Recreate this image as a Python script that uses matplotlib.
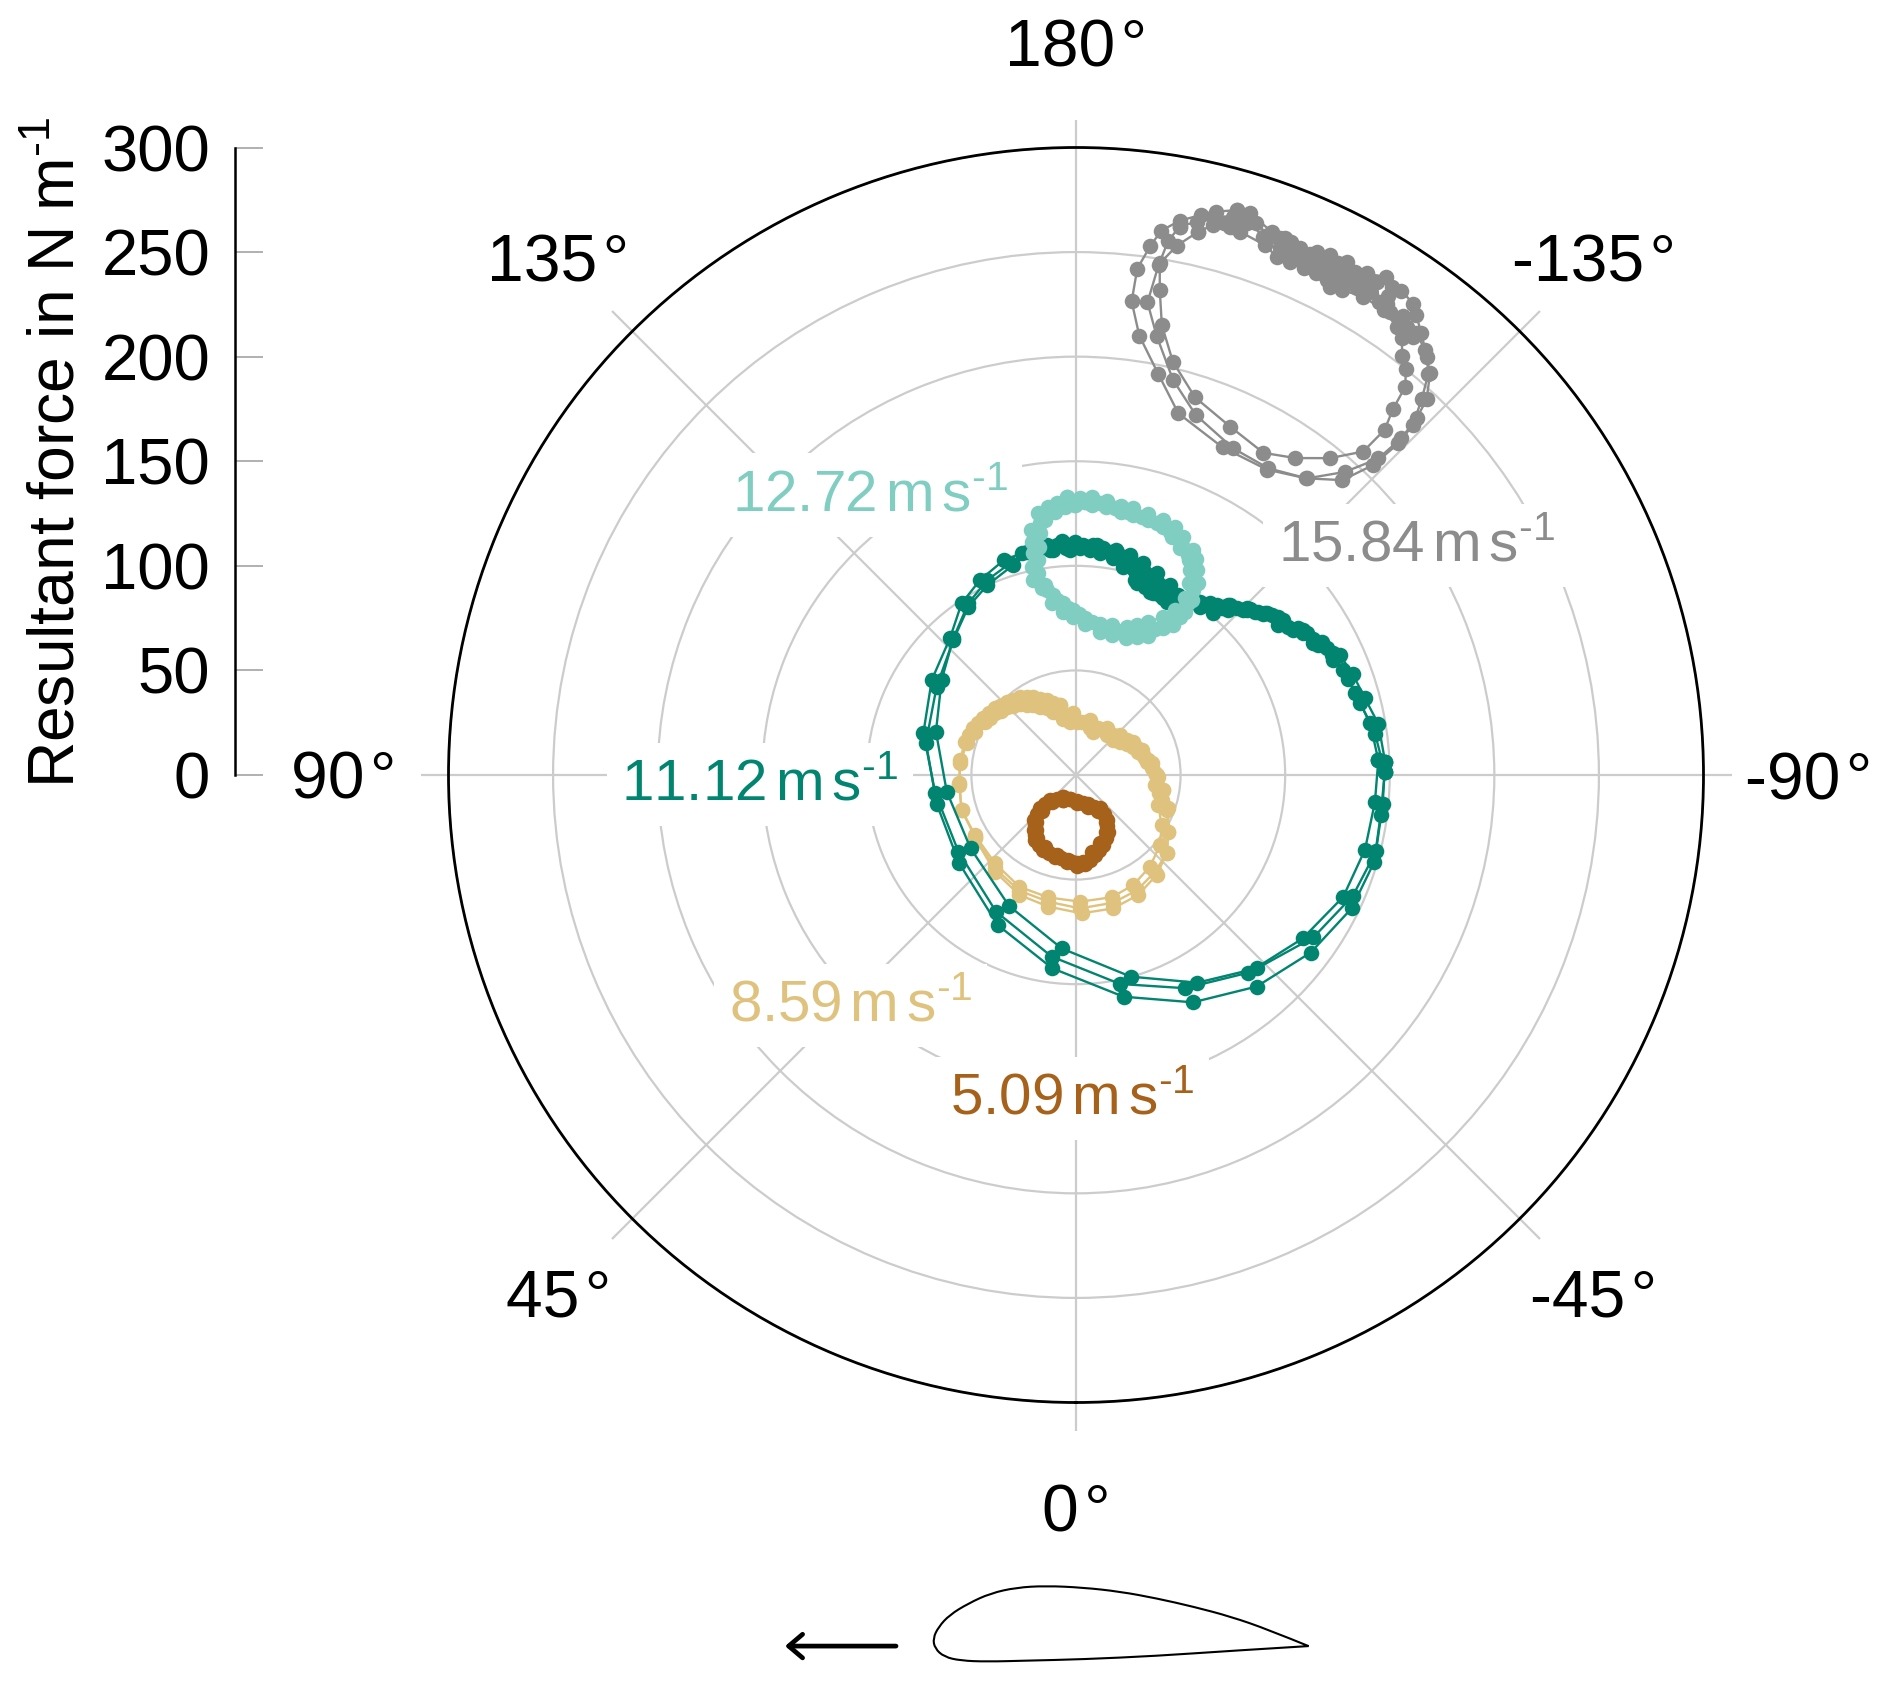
import numpy as np
import matplotlib
matplotlib.use('Agg')
import matplotlib.pyplot as plt
from matplotlib.path import Path
from matplotlib.patches import PathPatch

plt.rcParams['font.family'] = ['Liberation Sans', 'DejaVu Sans']
plt.rcParams['mathtext.fontset'] = 'custom'
plt.rcParams['mathtext.rm'] = 'Liberation Sans'
plt.rcParams['mathtext.it'] = 'Liberation Sans'
plt.rcParams['mathtext.bf'] = 'Liberation Sans'
plt.rcParams['mathtext.default'] = 'regular'

# Resultant force: angle in degrees, magnitude in N/m; several revolutions per wind speed
grey_t1 = [-164.1,-166.0,-167.4,-169.4,-171.1,-172.0,-173.1,-173.3,-171.8,-168.4,-164.2,-155.9,-148.0,-142.2,-137.9,-136.2,-135.8,-136.1,-137.4,-138.7,-140.0,-142.0,-143.5,-144.4,-146.1,-147.1,-148.1,-149.9,-151.9,-154.1,-155.8,-158.7,-160.2,-162.8]
grey_r1 = [280.8,277.6,274.4,269.6,263.4,255.4,243.9,228.0,212.2,195.7,179.7,171.6,172.2,179.5,190.0,205.4,221.1,232.4,244.2,255.2,261.0,268.1,273.5,277.0,279.0,277.7,280.3,277.2,274.6,274.5,273.3,275.3,276.1,281.1]
grey_t2 = [-169.3,-170.2,-170.8,-171.4,-169.6,-166.2,-161.6,-154.3,-147.9,-142.1,-138.4,-136.3,-136.0,-136.3,-137.0,-138.6,-140.6,-142.4,-144.5,-146.6,-149.2,-151.5,-153.4,-155.3,-157.1,-158.9,-160.8,-162.9,-164.3,-166.2,-167.7]
grey_r2 = [266.8,259.2,247.0,228.5,213.5,194.5,181.4,173.3,173.1,179.7,193.8,209.3,223.9,235.8,245.8,256.0,262.9,266.7,269.3,270.0,271.7,271.1,271.7,271.1,271.5,270.8,272.5,277.6,277.3,274.9,270.8]
grey_t3 = [-167.3,-169.2,-170.7,-170.2,-169.2,-166.8,-162.5,-156.1,-149.8,-145.3,-141.3,-138.4,-138.2,-139.1,-139.7,-140.9,-142.1,-143.3,-144.4,-146.5,-149.0,-151.3,-152.5,-155.8,-157.4,-158.8,-160.4,-163.2,-164.3,-166.0]
grey_r3 = [266.3,257.7,247.8,235.3,219.0,202.9,189.3,182.1,178.2,184.3,194.1,206.8,221.4,231.4,243.5,249.9,254.1,260.4,263.5,266.5,266.8,264.4,263.2,265.5,265.9,265.7,269.0,271.3,272.3,271.0]
grey_t4 = [-142.4,-143.0,-143.6,-144.5,-145.9,-146.9,-147.4,-148.6,-148.7,-149.9,-150.0,-151.0,-150.7,-152.2,-151.8,-151.8,-152.9,-152.9,-154.0,-153.1,-154.5,-154.4,-155.3,-155.8,-156.2,-157.0,-157.5,-158.0,-158.2,-158.7,-159.2,-160.4,-161.9,-162.8,-163.9,-164.0,-165.0]
grey_r4 = [264.4,265.4,266.3,267.0,267.6,273.1,268.5,276.2,270.5,273.6,268.6,275.1,270.6,277.4,270.4,266.8,274.9,270.3,276.7,265.3,271.0,266.0,275.4,270.8,269.1,273.6,269.1,275.0,271.2,268.5,274.5,274.0,277.5,276.1,276.2,272.7,273.0]

teal_t1 = [178.1,-179.2,-176.8,-173.6,-170.4,-167.9,-164.5,-161.1,-158.2,-155.8,-152.5,-150.9,-149.4,-147.5,-146.5,-146.3,-147.0,-149.2,-152.6,-156.2,-159.9,-165.7,-170.5,-176.6,179.0,175.6,172.0,169.6,167.7,168.0,168.9,169.2,169.7,171.8,174.1,175.9]
teal_r1 = [132.8,132.3,133.0,132.0,130.4,130.4,129.5,128.9,127.5,125.0,121.3,118.0,113.9,108.7,100.3,93.9,85.5,81.6,75.1,71.9,69.6,69.1,69.2,72.3,75.7,78.3,83.2,90.7,95.4,101.8,108.0,113.5,119.0,126.4,129.0,130.2]
teal_t2 = [179.8,-176.7,-173.5,-170.2,-167.6,-164.2,-160.6,-158.1,-155.4,-152.2,-150.9,-149.4,-148.3,-149.0,-151.1,-154.7,-158.0,-161.1,-166.6,-171.0,-176.7,179.1,175.8,172.8,170.7,169.4,170.1,170.9,171.5,173.1,175.4,177.7]
teal_r2 = [129.1,129.3,128.8,127.8,127.3,126.7,125.6,122.8,119.2,116.2,112.1,106.5,99.2,92.0,86.4,81.1,77.4,74.9,73.7,73.1,75.0,78.9,82.3,86.7,92.0,98.1,104.4,110.6,116.8,122.8,126.3,128.4]
teal_t3 = [-178.1,-175.0,-171.7,-168.8,-165.7,-162.2,-158.9,-156.0,-153.0,-150.7,-149.4,-147.6,-146.8,-146.7,-148.7,-151.5,-155.4,-158.5,-163.7,-168.8,-174.2,-178.9,177.4,173.7,171.0,168.9,169.0,169.9,170.4,171.9,174.4,177.3]
teal_r3 = [130.7,130.4,128.8,128.4,127.4,126.3,124.7,122.1,118.1,115.2,110.2,104.7,98.1,90.6,84.9,79.2,75.4,72.8,71.9,71.5,73.7,77.0,79.8,84.2,89.5,95.8,103.1,110.1,115.6,121.5,126.5,130.0]

green_t1 = [-90.6,-97.9,-104.3,-109.5,-114.1,-119.0,-123.7,-126.6,-130.7,-134.0,-137.3,-139.7,-143.6,-149.9,-153.7,-158.0,-162.4,-167.2,-170.2,-173.8,-176.4,178.5,173.4,169.3,163.4,155.0,147.4,137.7,122.4,102.2,78.2,52.9,27.6,7.0,-12.1,-27.2,-40.5,-52.9,-64.2,-73.7,-82.5,-90.6]
green_r1 = [147.7,144.3,140.1,138.2,134.8,129.8,124.9,120.4,118.1,113.5,107.4,101.4,100.0,95.8,94.2,94.5,96.1,102.1,105.1,106.6,107.8,107.6,108.3,109.5,104.8,100.2,95.5,87.2,78.9,73.4,68.0,70.0,80.9,93.1,108.4,122.2,133.0,140.7,146.4,148.5,146.9,147.7]
green_t2 = [-92.8,-100.1,-106.3,-111.4,-115.1,-118.5,-122.5,-128.0,-130.5,-133.6,-137.8,-140.4,-144.4,-152.6,-157.4,-161.8,-166.1,-169.7,-174.9,179.8,176.5,171.9,166.2,161.5,153.8,146.3,137.3,123.4,105.5,82.9,56.9,30.3,7.6,-11.9,-27.1,-41.1,-54.2,-65.5,-75.5,-84.8,-92.8]
green_r2 = [144.7,142.8,139.0,137.3,135.0,133.6,128.9,122.8,118.9,114.9,109.7,105.5,101.9,97.8,100.2,103.2,107.5,108.5,110.4,110.0,112.2,110.3,109.1,108.4,103.9,98.6,88.9,82.6,75.7,67.9,67.1,75.7,87.6,102.1,114.5,125.4,133.6,140.4,142.7,143.5,144.7]
green_t3 = [-92.5,-99.6,-104.9,-110.1,-114.4,-117.9,-121.9,-126.8,-130.3,-134.3,-138.8,-142.0,-146.4,-150.4,-153.7,-158.2,-162.4,-166.2,-169.8,-175.7,179.8,176.5,172.7,167.5,162.7,155.5,147.9,138.1,125.3,107.2,82.7,55.2,27.1,4.7,-15.2,-30.3,-43.2,-55.6,-66.4,-75.7,-84.6,-92.5]
green_r3 = [147.9,146.6,142.9,140.8,138.6,132.9,128.1,123.8,119.5,114.0,106.9,104.1,101.4,99.0,101.3,103.8,106.2,108.3,109.3,110.3,111.6,111.8,110.8,109.3,106.0,102.4,96.9,87.8,78.7,70.1,62.3,61.4,70.3,83.2,99.9,115.0,126.7,137.5,144.4,148.0,147.3,147.9]
green_t4 = [-115.3,-116.8,-118.2,-119.9,-121.6,-123.4,-124.9,-126.2,-128.0,-129.3,-131.9,-132.4,-134.6,-136.1,-138.1,-138.8,-140.2,-142.5,-151.8,-152.4,-154.7,-155.0,-157.0,-156.9,-158.7,-159.5,-159.9,-162.0,-162.0,-163.2,-163.9,-164.6,-166.2,-167.6,-168.6,-171.3,-173.1,-178.2,-179.0,178.1,177.6,175.2,174.2]
green_r4 = [136.1,134.3,131.5,130.9,129.4,127.3,123.8,122.8,121.7,120.8,117.0,115.8,112.3,110.7,109.1,105.8,103.8,102.5,96.8,93.5,97.8,95.0,98.7,94.4,97.5,98.7,95.9,101.4,98.9,97.4,102.0,103.3,105.0,105.2,106.2,108.0,109.1,110.0,108.4,110.0,108.5,110.3,108.1]

sand_t1 = [167.1,158.6,151.4,144.4,136.6,129.5,121.4,114.4,106.7,97.4,85.9,73.0,59.3,42.5,26.9,12.7,-1.8,-16.3,-27.5,-38.9,-50.2,-59.7,-70.0,-82.8,-90.0,-101.7,-110.8,-120.2,-132.3,-146.7,-165.7,177.5]
sand_r1 = [34.3,38.5,42.6,46.0,48.2,50.2,51.9,53.9,55.4,55.9,55.9,57.2,56.2,57.3,59.9,60.0,60.6,60.9,59.3,56.3,52.3,47.4,41.9,38.1,38.6,35.3,33.6,31.7,28.4,26.7,27.1,29.5]
sand_t2 = [165.5,156.3,148.6,141.7,134.6,127.3,120.4,113.2,106.2,95.7,85.1,73.0,58.6,41.0,26.1,12.3,-1.7,-16.3,-28.1,-39.3,-49.2,-58.5,-68.9,-80.3,-88.8,-98.8,-106.5,-116.3,-127.1,-142.5,-163.3,173.6]
sand_r2 = [30.5,34.8,39.2,43.2,46.5,48.7,50.4,52.5,54.4,55.7,56.0,57.2,56.6,59.1,61.6,62.0,63.8,63.6,62.3,59.7,57.3,51.8,46.5,42.4,39.4,36.6,33.6,30.6,26.4,24.1,23.3,25.7]
sand_t3 = [57.9,40.0,25.3,11.9,-2.3,-15.6,-27.4,-38.9,-49.2,-58.5,-70.1,-80.3]
sand_r3 = [57.0,60.3,63.4,64.3,66.2,66.2,64.6,61.4,57.3,51.8,46.9,42.4]
sand_t4 = [-73.7,-77.6,-87.6,-95.0,-103.6,-113.5,-124.6,-137.0,-154.4,-173.9,170.9,162.4,154.6,147.6,140.1,132.2,125.4,117.9,110.6]
sand_r4 = [42.7,40.8,38.6,36.3,33.9,32.0,29.4,26.2,24.7,25.6,28.2,35.9,40.1,44.0,46.7,49.1,50.9,52.8,54.5]
sand_t5 = [-91.2,-100.7,-110.5,-121.5,-133.2,-158.2,-179.3,167.2,160.3,152.0,144.8,137.8,130.6,123.4]
sand_r5 = [37.8,34.4,31.8,28.4,24.5,22.3,25.5,27.3,32.2,36.6,40.9,44.6,47.2,49.2]

brown_t1 = [29.6,-1.5,-23.0,-35.8,-34.8,-29.7,-21.3,-13.4,-5.8,-0.4,6.1,14.4,23.5,32.2,37.4,43.0,47.2,46.1]
brown_r1 = [12.3,12.3,15.1,19.6,26.2,31.2,35.9,39.3,42.8,43.3,42.0,40.3,39.1,36.7,33.1,29.4,23.5,17.2]
brown_t2 = [26.9,-1.3,-21.3,-32.1,-32.7,-27.9,-19.4,-11.5,-4.8,-0.4,5.2,13.6,23.4,31.8,36.0,40.6,43.9,42.4]
brown_r2 = [13.4,13.5,16.2,20.1,26.5,30.7,34.6,37.4,41.6,42.2,40.8,39.3,37.3,35.6,32.5,29.4,23.7,17.3]
brown_t3 = [13.9,-13.2,-29.1,-35.7,-31.6,-25.3,-17.3,-9.4,-3.0,2.9,10.4,18.9,27.6,34.3,39.4,45.0,46.9,39.2]
brown_r3 = [12.0,13.9,17.7,23.0,28.6,33.5,37.6,41.2,42.8,41.5,40.5,39.3,37.8,34.7,30.9,26.6,20.3,14.6]

speed_labels = ['5.09', '8.59', '11.12', '12.72', '15.84']
label_angles = [0.64, 44.4, 88.25, 143.6, -124.0]
label_radii = [154.6, 154.2, 151.2, 166.3, 196.2]
colors = ['#a6611a', '#dfc27d', '#018571', '#80cdc1', '#8c8c8c']

theta_ticks = [0, 45, 90, 135, 180, 225, 270, 315]
theta_labels = ['0\u200a°', '45\u200a°', '90\u200a°', '135\u200a°', '180\u200a°', '-135\u200a°', '-90\u200a°', '-45\u200a°']
r_ticks = [50, 100, 150, 200, 250, 300]
r_tick_labels = ['0', '50', '100', '150', '200', '250', '300']

foil_x = [1.0,.892,.793,.695,.596,.498,.399,.300,.222,.153,.094,.044,.015,0.0,.005,.030,.074,.143,.251,.399,.596,.793,1.0]
foil_y = [0.0,.049,.087,.116,.141,.161,.173,.178,.173,.156,.126,.092,.057,.023,-.007,-.032,-.043,-.046,-.043,-.039,-.029,-.014,0.0]

W, H = 1892, 1682
fig = plt.figure(figsize=(W / 100, H / 100), dpi=100)
cx, cy, R = 1076.0, 775.0, 627.5
ax = fig.add_axes([(cx - R) / W, (H - cy - R) / H, 2 * R / W, 2 * R / H], projection='polar')
ax.set_theta_zero_location('S')
ax.set_theta_direction(-1)
ax.set_rlim(0, 300)
ax.set_thetagrids(theta_ticks, theta_labels, fontsize=47.5)
ax.set_rgrids(r_ticks, [''] * len(r_ticks))
ax.set_axisbelow(True)
ax.grid(True, color='#cccccc', linewidth=1.6)
ax.tick_params(axis='x', which='major', bottom=False, top=True, length=20, width=1.6, color='#cccccc', direction='out', pad=48.5)
for lab in ax.get_xticklabels():
    lab.set_va('center_baseline')
ax.spines['polar'].set_linewidth(2.0)
ax.spines['polar'].set_color('black')


def lap(t, r, color, z, close=True):
    t, r = np.radians(t), np.asarray(r, float)
    if close:
        t, r = np.r_[t, t[0]], np.r_[r, r[0]]
    ax.plot(t, r, '-o', color=color, lw=1.7, ms=11.2, mew=0, zorder=z, clip_on=False)


lap(brown_t1, brown_r1, colors[0], 4)
lap(brown_t2, brown_r2, colors[0], 4)
lap(brown_t3, brown_r3, colors[0], 4)
lap(sand_t1, sand_r1, colors[1], 5)
lap(sand_t2, sand_r2, colors[1], 5)
lap(sand_t3, sand_r3, colors[1], 5, close=False)
lap(sand_t4, sand_r4, colors[1], 5, close=False)
lap(sand_t5, sand_r5, colors[1], 5, close=False)
lap(green_t1, green_r1, colors[2], 6)
lap(green_t2, green_r2, colors[2], 6)
lap(green_t3, green_r3, colors[2], 6)
lap(green_t4, green_r4, colors[2], 6, close=False)
lap(teal_t1, teal_r1, colors[3], 7)
lap(teal_t2, teal_r2, colors[3], 7)
lap(teal_t3, teal_r3, colors[3], 7)
lap(grey_t1, grey_r1, colors[4], 8)
lap(grey_t2, grey_r2, colors[4], 8)
lap(grey_t3, grey_r3, colors[4], 8)
lap(grey_t4, grey_r4, colors[4], 8, close=False)

unit = r'$\,m\,s^{\text{-}1}$'
for s, a, rr, c in zip(speed_labels, label_angles, label_radii, colors):
    ax.text(np.radians(a), rr, s + unit, color=c, fontsize=42, ha='center', va='center', zorder=3,
            bbox=dict(facecolor='white', edgecolor='none', boxstyle='square,pad=0.25'))

# Separate force scale on the left
ay = fig.add_axes([235 / W, (H - cy) / H, 30 / W, R / H])
ay.set_ylim(0, 300)
ay.set_xticks([])
ay.set_yticks([0] + r_ticks)
ay.set_yticklabels(r_tick_labels, fontsize=47)
ay.tick_params(axis='y', direction='in', length=20, width=1.3, color='#aaaaaa', pad=18)
for name in ('top', 'right', 'bottom'):
    ay.spines[name].set_visible(False)
ay.spines['left'].set_linewidth(1.8)
ay.patch.set_alpha(0)
ay.set_ylabel(r'Resultant force in N$\;$m$^{\text{-}1}$', fontsize=46.2)
ay.yaxis.set_label_coords((58 - 235) / 30, (cy - 452) / R)
ay.yaxis.label.set_va('center')

# Airfoil sketch with flow arrow, in chord units
chord_px = 375.5
af = fig.add_axes([933 / W, (H - 1663) / H, chord_px / W, 81.2 / H])
af.set_xlim(0, 1)
af.set_ylim(-0.05, 0.19)
af.axis('off')

pts = list(zip(foil_x, foil_y))
verts, codes = [pts[0]], [Path.MOVETO]
for i in range(1, len(pts) - 1):
    nxt = pts[i + 1] if i == len(pts) - 2 else ((pts[i][0] + pts[i + 1][0]) / 2, (pts[i][1] + pts[i + 1][1]) / 2)
    verts += [pts[i], nxt]
    codes += [Path.CURVE3, Path.CURVE3]
af.add_patch(PathPatch(Path(verts, codes), fill=False, lw=1.5, ec='black', clip_on=False))
af.annotate('', xy=(-0.394, 0), xytext=(-0.0985, 0), annotation_clip=False,
            arrowprops=dict(arrowstyle='->,head_length=1.0,head_width=0.85', lw=3.4, color='black',
                            shrinkA=0, shrinkB=0))

fig.savefig('out.png', dpi=100)
